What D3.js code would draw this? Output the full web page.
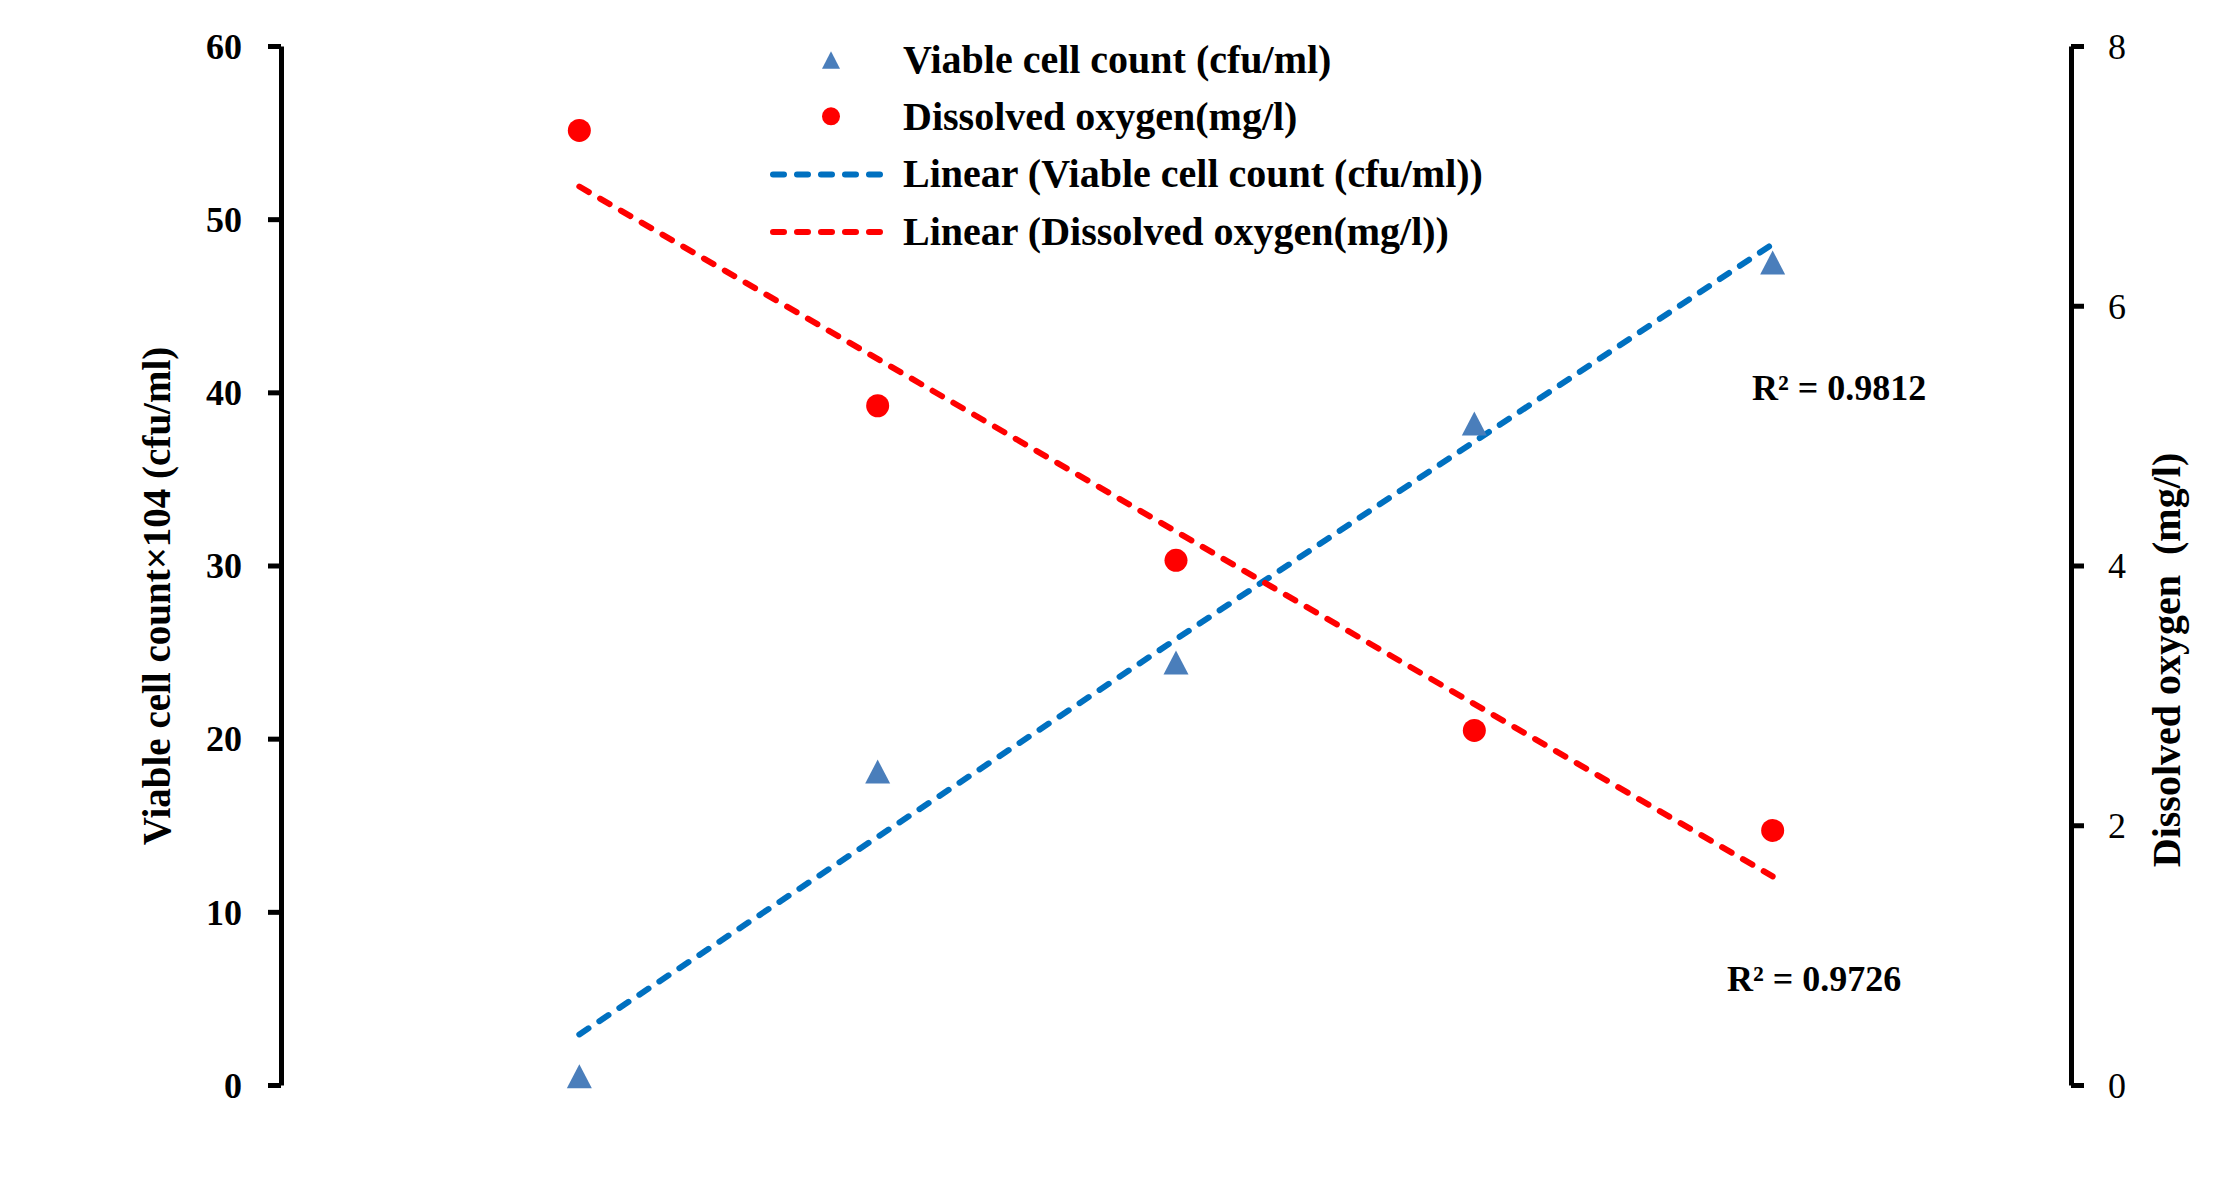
<!DOCTYPE html>
<html>
<head>
<meta charset="utf-8">
<title>Viable cell count and dissolved oxygen</title>
<script src="https://cdn.jsdelivr.net/npm/d3@7/dist/d3.min.js"></script>
<style>
    body { margin: 0; background: #fff; }
    svg text { font-family: "Liberation Serif", "Times New Roman", serif; font-weight: bold; fill: #000; }
</style>
</head>
<body>
<div id="chart"></div>
<script>
// values
const samplePoints = [1, 2, 3, 4, 5];
const viableCount = [0.5, 18.1, 24.4, 38.2, 47.5];
const dissolvedOxygen = [7.35, 5.23, 4.04, 2.73, 1.96];
const leftTicks = [0, 10, 20, 30, 40, 50, 60];
const rightTicks = [0, 2, 4, 6, 8];
const legendLabels = [
    'Viable cell count (cfu/ml)',
    'Dissolved oxygen(mg/l)',
    'Linear (Viable cell count (cfu/ml))',
    'Linear (Dissolved oxygen(mg/l))'
];
const rSquaredLabels = ['R\u00b2 = 0.9812', 'R\u00b2 = 0.9726'];

const width = 2228;
const height = 1204;
const plot = { left: 281, right: 2071, top: 46, bottom: 1085 };

const blueMarker = '#4a7ebb';
const blueLine = '#0070c0';
const redMarker = '#ff0000';
const redLine = '#ff0000';

const svg = d3.select('#chart')
    .append('svg')
    .attr('width', width)
    .attr('height', height);

svg.append('rect')
    .attr('width', width)
    .attr('height', height)
    .attr('fill', '#fff');

const xScale = d3.scaleLinear()
    .domain([0, 6])
    .range([plot.left, plot.right]);

const yLeft = d3.scaleLinear()
    .domain([0, 60])
    .range([plot.bottom, plot.top]);

const yRight = d3.scaleLinear()
    .domain([0, 8])
    .range([plot.bottom, plot.top]);

// least squares trend line, like the spreadsheet "Linear" trendline
function linearFit(xs, ys) {
    const mx = d3.mean(xs);
    const my = d3.mean(ys);
    let sxy = 0, sxx = 0;
    xs.forEach((x, i) => {
        sxy += (x - mx) * (ys[i] - my);
        sxx += (x - mx) * (x - mx);
    });
    const slope = sxy / sxx;
    return x => my + slope * (x - mx);
}

// triangle centred on its bounding box (excel style marker)
const boxTriangle = {
    draw(context, size) {
        const s = Math.sqrt(size);
        const h = s * 0.96;
        context.moveTo(0, -h / 2);
        context.lineTo(s / 2, h / 2);
        context.lineTo(-s / 2, h / 2);
        context.closePath();
    }
};

// axes
const leftAxis = svg.append('g')
    .attr('transform', `translate(${plot.left},0)`)
    .call(d3.axisLeft(yLeft).tickValues(leftTicks).tickSize(13).tickSizeOuter(0).tickPadding(26));

const rightAxis = svg.append('g')
    .attr('transform', `translate(${plot.right},0)`)
    .call(d3.axisRight(yRight).tickValues(rightTicks).tickSize(13).tickSizeOuter(0).tickPadding(24));

[leftAxis, rightAxis].forEach(axis => {
    axis.select('.domain')
        .attr('stroke', '#000')
        .attr('stroke-width', 5);
    axis.selectAll('.tick line')
        .attr('stroke', '#000')
        .attr('stroke-width', 5);
    axis.selectAll('.tick text')
        .attr('font-family', null)
        .style('font-size', '36px')
        .attr('dy', '0.34em');
});

rightAxis.selectAll('.tick text')
    .style('font-weight', 'normal');

// axis titles
svg.append('text')
    .attr('transform', 'translate(170, 596) rotate(-90)')
    .attr('text-anchor', 'middle')
    .style('font-size', '39px')
    .text('Viable cell count\u00d7104 (cfu/ml)');

svg.append('text')
    .attr('transform', 'translate(2180, 660) rotate(-90)')
    .attr('text-anchor', 'middle')
    .style('font-size', '40px')
    .text('Dissolved oxygen\u00a0 (mg/l)');

// trend lines
const blueFit = linearFit(samplePoints, viableCount);
const redFit = linearFit(samplePoints, dissolvedOxygen);
const xEnds = d3.extent(samplePoints);

svg.append('path')
    .datum(xEnds)
    .attr('fill', 'none')
    .attr('stroke', blueLine)
    .attr('stroke-width', 6)
    .attr('stroke-linecap', 'round')
    .attr('stroke-dasharray', '11,13')
    .attr('d', d3.line().x(d => xScale(d)).y(d => yLeft(blueFit(d))));

svg.append('path')
    .datum(xEnds)
    .attr('fill', 'none')
    .attr('stroke', redLine)
    .attr('stroke-width', 6)
    .attr('stroke-linecap', 'round')
    .attr('stroke-dasharray', '11,13')
    .attr('d', d3.line().x(d => xScale(d)).y(d => yRight(redFit(d))));

// markers
svg.selectAll('.viable')
    .data(samplePoints)
    .enter().append('path')
    .attr('class', 'viable')
    .attr('transform', (d, i) => `translate(${xScale(d)},${yLeft(viableCount[i])})`)
    .attr('fill', blueMarker)
    .attr('d', d3.symbol().type(boxTriangle).size(25 * 25));

svg.selectAll('.oxygen')
    .data(samplePoints)
    .enter().append('circle')
    .attr('class', 'oxygen')
    .attr('cx', d => xScale(d))
    .attr('cy', (d, i) => yRight(dissolvedOxygen[i]))
    .attr('r', 11.5)
    .attr('fill', redMarker);

// R squared labels
svg.append('text')
    .attr('x', 1752)
    .attr('y', 400)
    .style('font-size', '36px')
    .text(rSquaredLabels[0]);

svg.append('text')
    .attr('x', 1727)
    .attr('y', 991)
    .style('font-size', '36px')
    .text(rSquaredLabels[1]);

// legend
const legend = svg.append('g')
    .attr('transform', 'translate(769, 59)');

const rowStep = 57.3;

legend.append('path')
    .attr('transform', 'translate(62, 1)')
    .attr('fill', blueMarker)
    .attr('d', d3.symbol().type(boxTriangle).size(18 * 18)());

legend.append('circle')
    .attr('cx', 62)
    .attr('cy', rowStep)
    .attr('r', 9)
    .attr('fill', redMarker);

[blueLine, redLine].forEach((color, i) => {
    legend.append('line')
        .attr('x1', 4)
        .attr('x2', 112)
        .attr('y1', rowStep * (i + 2) + 1)
        .attr('y2', rowStep * (i + 2) + 1)
        .attr('stroke', color)
        .attr('stroke-width', 6)
        .attr('stroke-linecap', 'round')
        .attr('stroke-dasharray', '11,13');
});

legend.selectAll('.legend-label')
    .data(legendLabels)
    .enter().append('text')
    .attr('class', 'legend-label')
    .attr('x', 134)
    .attr('y', (d, i) => rowStep * i)
    .attr('dy', '0.34em')
    .style('font-size', '40px')
    .text(d => d);
</script>
</body>
</html>
